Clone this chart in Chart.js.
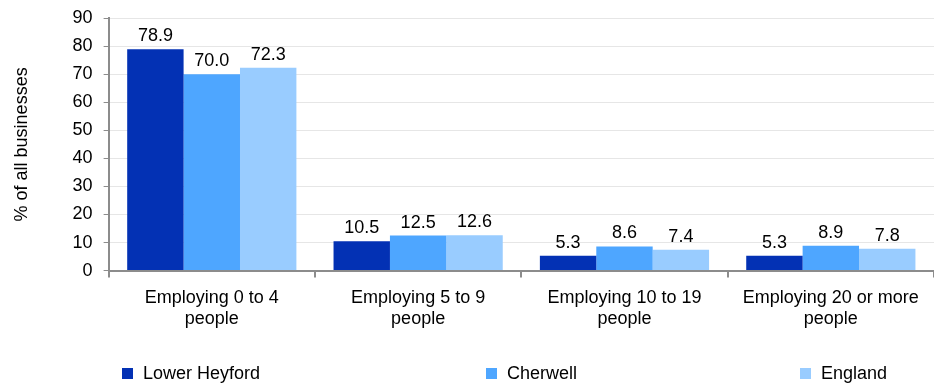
<!DOCTYPE html>
<html>
<head>
<meta charset="utf-8">
<script src="https://cdn.jsdelivr.net/npm/chart.js@4/dist/chart.umd.min.js"></script>
<style>
  html, body { margin: 0; padding: 0; background: #fff; }
  #wrap { width: 934px; height: 384px; position: relative; }
</style>
</head>
<body>
<div id="wrap"><canvas id="c" width="934" height="384"></canvas></div>
<script>
const categories = [
  ['Employing 0 to 4', 'people'],
  ['Employing 5 to 9', 'people'],
  ['Employing 10 to 19', 'people'],
  ['Employing 20 or more', 'people']
];
const lowerHeyford = [78.9, 10.5, 5.3, 5.3];
const cherwell = [70.0, 12.5, 8.6, 8.9];
const england = [72.3, 12.6, 7.4, 7.8];
const seriesNames = ['Lower Heyford', 'Cherwell', 'England'];
const colors = ['#0331b4', '#4ea6ff', '#99ccff'];
const yTitle = '% of all businesses';

const FONT = '"Liberation Sans", Arial, sans-serif';
const FS = 18;

const valueLabels = {
  id: 'valueLabels',
  afterDatasetsDraw(chart) {
    const ctx = chart.ctx;
    ctx.save();
    ctx.font = FS + 'px ' + FONT;
    ctx.fillStyle = '#000';
    ctx.textAlign = 'center';
    ctx.textBaseline = 'bottom';
    chart.data.datasets.forEach((ds, i) => {
      const meta = chart.getDatasetMeta(i);
      meta.data.forEach((bar, j) => {
        ctx.fillText(ds.data[j].toFixed(1), bar.x, bar.y - 4);
      });
    });
    ctx.restore();
  }
};

const customLegend = {
  id: 'customLegend',
  afterDraw(chart) {
    const ctx = chart.ctx;
    const xs = [122, 486, 800];
    const y = 373;
    ctx.save();
    ctx.font = FS + 'px ' + FONT;
    ctx.textBaseline = 'middle';
    ctx.textAlign = 'left';
    chart.data.datasets.forEach((ds, i) => {
      ctx.fillStyle = ds.backgroundColor;
      ctx.fillRect(xs[i], y - 5, 11, 11);
      ctx.fillStyle = '#000';
      ctx.fillText(ds.label, xs[i] + 21, y + 1);
    });
    ctx.restore();
  }
};

new Chart(document.getElementById('c'), {
  type: 'bar',
  data: {
    labels: categories,
    datasets: [
      { label: seriesNames[0], data: lowerHeyford, backgroundColor: colors[0] },
      { label: seriesNames[1], data: cherwell, backgroundColor: colors[1] },
      { label: seriesNames[2], data: england, backgroundColor: colors[2] }
    ]
  },
  options: {
    responsive: false,
    animation: false,
    devicePixelRatio: 1,
    layout: { padding: { top: 0, bottom: 45, right: 0, left: 0 } },
    datasets: { bar: { categoryPercentage: 0.82, barPercentage: 1.0 } },
    plugins: {
      legend: { display: false },
      tooltip: { enabled: false }
    },
    scales: {
      x: {
        grid: { display: true, drawOnChartArea: false, drawTicks: true, tickLength: 7, offset: true, color: '#8c8c8c', lineWidth: 2 },
        border: { display: true, color: '#8c8c8c', width: 2 },
        ticks: { color: '#000', font: { size: FS, family: FONT, lineHeight: 1.15 }, padding: 10, maxRotation: 0, autoSkip: false }
      },
      y: {
        min: 0, max: 90,
        ticks: { stepSize: 10, color: '#000', font: { size: FS, family: FONT, lineHeight: 0.8 }, padding: 11 },
        grid: { color: '#e6e6e6', lineWidth: 1, drawTicks: true, tickLength: 5, tickColor: '#8c8c8c' },
        border: { display: true, color: '#8c8c8c', width: 2 },
        title: { display: true, text: yTitle, color: '#000', font: { size: FS, family: FONT }, padding: { top: 11, bottom: 29 } }
      }
    }
  },
  plugins: [valueLabels, customLegend]
});
</script>
</body>
</html>
